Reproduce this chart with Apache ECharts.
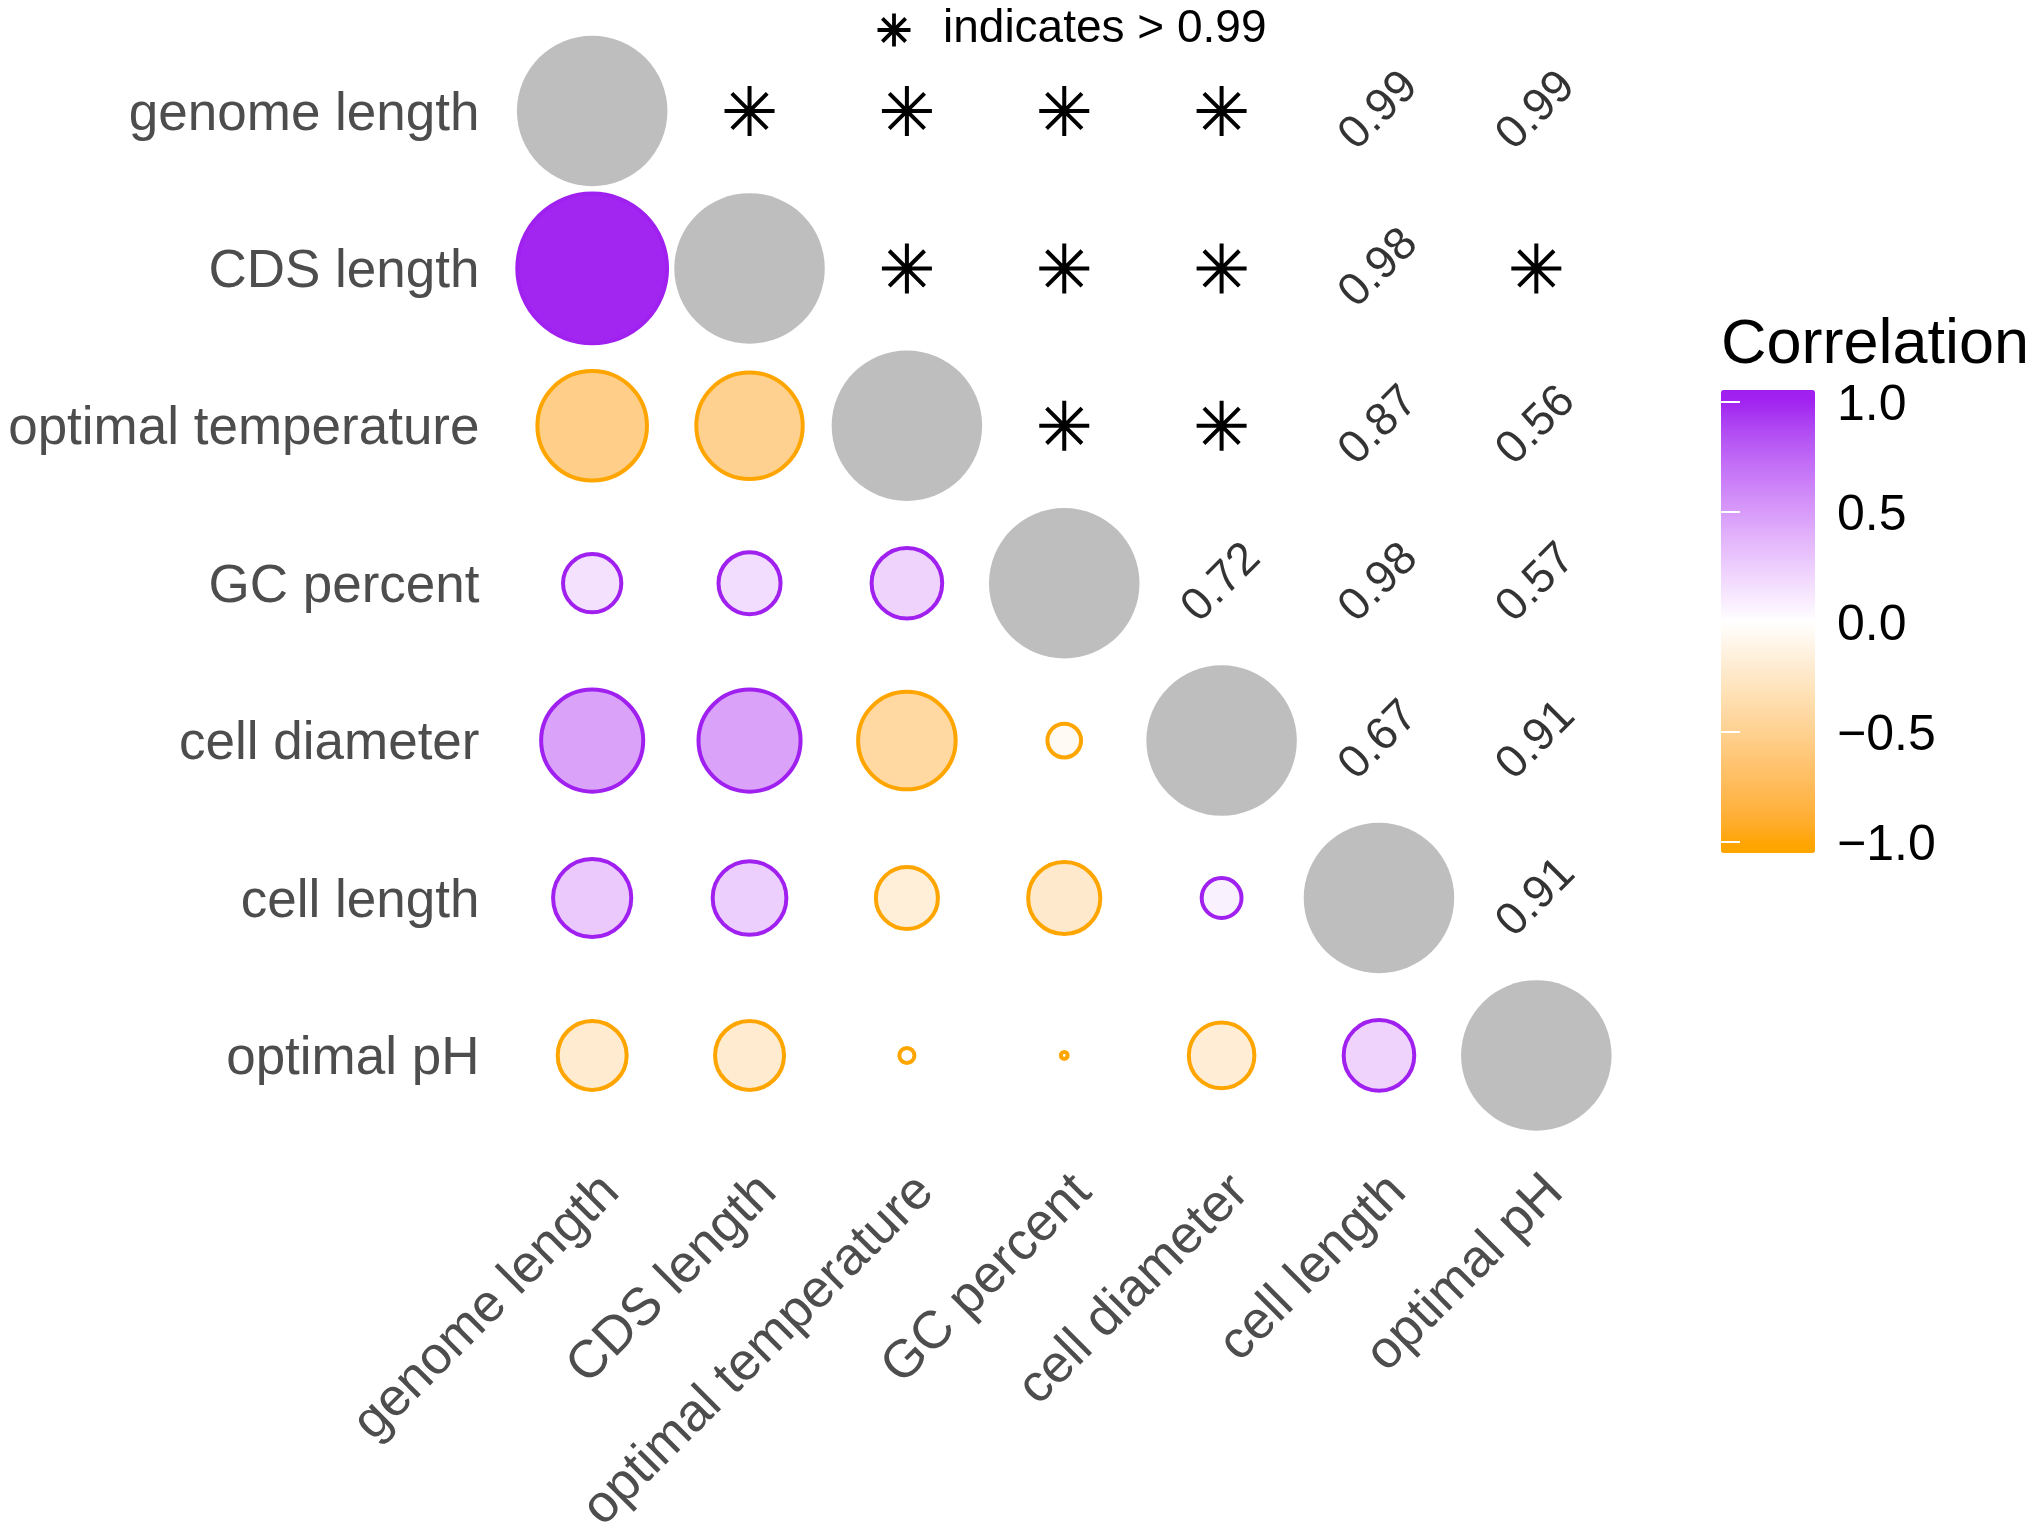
<!DOCTYPE html>
<html>
<head>
<meta charset="utf-8">
<script src="https://cdn.jsdelivr.net/npm/echarts@6.0.0/dist/echarts.min.js"></script>
<style>
  html, body { margin: 0; padding: 0; background: #fff; }
  #chart { width: 2040px; height: 1531px; }
</style>
</head>
<body>
<div id="chart"></div>
<script>
// variables, top to bottom / left to right
const variables = ['genome length', 'CDS length', 'optimal temperature', 'GC percent',
  'cell diameter', 'cell length', 'optimal pH'];

// lower triangle: correlation of each row with the columns to its left
const corrCDSLength = [0.99];
const corrOptimalTemperature = [-0.53, -0.50];
const corrGCPercent = [0.15, 0.17, 0.22];
const corrCellDiameter = [0.46, 0.46, -0.42, -0.05];
const corrCellLength = [0.27, 0.24, -0.17, -0.23, 0.07];
const corrOptimalPH = [-0.21, -0.21, -0.01, -0.002, -0.19, 0.22];

// upper triangle: labels of each row for the columns to its right ('*' = > 0.99)
const upperGenomeLength = ['*', '*', '*', '*', '0.99', '0.99'];
const upperCDSLength = ['*', '*', '*', '0.98', '*'];
const upperOptimalTemperature = ['*', '*', '0.87', '0.56'];
const upperGCPercent = ['0.72', '0.98', '0.57'];
const upperCellDiameter = ['0.67', '0.91'];
const upperCellLength = ['0.91'];

const lowerRows = [[], corrCDSLength, corrOptimalTemperature, corrGCPercent,
  corrCellDiameter, corrCellLength, corrOptimalPH];
const upperRows = [upperGenomeLength, upperCDSLength, upperOptimalTemperature,
  upperGCPercent, upperCellDiameter, upperCellLength, []];

const FONT = "'Liberation Sans', Arial, Helvetica, sans-serif";
const PURPLE = '#A020F0';
const ORANGE = '#FFA500';
const MAX_SIZE = 150.5;

// asterisk (plus + cross), 0..100 box
const asteriskPath = 'path://M46 0L54 0L54 100L46 100Z' +
  'M0 46L100 46L100 54L0 54Z' +
  'M17.47 11.81L88.19 82.53L82.53 88.19L11.81 17.47Z' +
  'M11.81 82.53L82.53 11.81L88.19 17.47L17.47 88.19Z';

// --- Lab interpolation like ggplot's gradient2 ---
function hexToRgb(h) {
  return [parseInt(h.slice(1, 3), 16), parseInt(h.slice(3, 5), 16), parseInt(h.slice(5, 7), 16)];
}
function toLin(c) { c /= 255; return c <= 0.04045 ? c / 12.92 : Math.pow((c + 0.055) / 1.055, 2.4); }
function fromLin(c) {
  c = c <= 0.0031308 ? 12.92 * c : 1.055 * Math.pow(c, 1 / 2.4) - 0.055;
  return Math.round(Math.max(0, Math.min(1, c)) * 255);
}
const WX = 0.95047, WY = 1, WZ = 1.08883;
function f(t) { return t > 0.008856 ? Math.cbrt(t) : 7.787 * t + 16 / 116; }
function finv(t) { return t > 0.206893 ? t * t * t : (t - 16 / 116) / 7.787; }
function rgbToLab(rgb) {
  const [r, g, b] = rgb.map(toLin);
  const x = 0.4124 * r + 0.3576 * g + 0.1805 * b;
  const y = 0.2126 * r + 0.7152 * g + 0.0722 * b;
  const z = 0.0193 * r + 0.1192 * g + 0.9505 * b;
  const fx = f(x / WX), fy = f(y / WY), fz = f(z / WZ);
  return [116 * fy - 16, 500 * (fx - fy), 200 * (fy - fz)];
}
function labToHex(lab) {
  const fy = (lab[0] + 16) / 116, fx = fy + lab[1] / 500, fz = fy - lab[2] / 200;
  const x = WX * finv(fx), y = WY * finv(fy), z = WZ * finv(fz);
  const r = 3.2406 * x - 1.5372 * y - 0.4986 * z;
  const g = -0.9689 * x + 1.8758 * y + 0.0415 * z;
  const b = 0.0557 * x - 0.2040 * y + 1.0570 * z;
  return '#' + [r, g, b].map(c => fromLin(c).toString(16).padStart(2, '0')).join('');
}
const labWhite = rgbToLab([255, 255, 255]);
const labPurple = rgbToLab(hexToRgb(PURPLE));
const labOrange = rgbToLab(hexToRgb(ORANGE));
function corrColor(v) {
  const t = Math.min(1, Math.abs(v));
  const end = v >= 0 ? labPurple : labOrange;
  return labToHex(labWhite.map((w, k) => w + (end[k] - w) * t));
}

const barMin = -1.052, barMax = 1.052;
const stops = [];
for (let k = 0; k <= 60; k++) stops.push(corrColor(barMin + (barMax - barMin) * k / 60));

// --- series data ---
const diagData = variables.map((_, i) => [i, i]);
const lowerData = [];
lowerRows.forEach((row, i) => row.forEach((r, j) => {
  lowerData.push({ value: [j, i, r], itemStyle: { borderColor: r >= 0 ? PURPLE : ORANGE } });
}));
const starData = [];
const textData = [];
upperRows.forEach((row, i) => row.forEach((lab, k) => {
  const j = i + 1 + k;
  if (lab === '*') starData.push([j, i]);
  else textData.push([j, i, lab]);
}));

// small asterisk for the note at the top
const noteStar = {
  type: 'group', x: 894, y: 30,
  children: [0, Math.PI / 2, Math.PI / 4, -Math.PI / 4].map(a => ({
    type: 'rect', rotation: a,
    shape: { x: -16.5, y: -1.9, width: 33, height: 3.8 },
    style: { fill: '#000' }
  }))
};

const chart = echarts.init(document.getElementById('chart'));
chart.setOption({
  animation: false,
  backgroundColor: '#fff',
  grid: [
    { left: 513.5, top: 32.3, width: 1101.5, height: 1101.8, outerBoundsMode: 'none' },
    { left: 1721, top: 401.7, width: 94, height: 440, outerBoundsMode: 'none' }
  ],
  xAxis: [
    {
      type: 'category', data: variables, gridIndex: 0,
      axisLine: { show: false }, axisTick: { show: false }, splitLine: { show: false },
      axisLabel: {
        interval: 0, rotate: 45, align: 'right', verticalAlign: 'top', margin: 31,
        fontSize: 53, color: '#4D4D4D', fontFamily: FONT
      }
    },
    { type: 'value', gridIndex: 1, show: false }
  ],
  yAxis: [
    {
      type: 'category', data: variables, gridIndex: 0, inverse: true,
      axisLine: { show: false }, axisTick: { show: false }, splitLine: { show: false },
      axisLabel: {
        interval: 0, margin: 34,
        formatter: v => '{a|' + v + '}',
        rich: { a: { padding: [8, 0, 0, 0], fontSize: 53, color: '#4D4D4D', fontFamily: FONT } }
      }
    },
    {
      type: 'value', gridIndex: 1, position: 'right', min: -1, max: 1, interval: 0.5, z: 10,
      axisLine: { show: false }, splitLine: { show: false },
      axisTick: { show: true, inside: true, length: 19, lineStyle: { color: '#fff', width: 2 } },
      axisLabel: {
        margin: 22,
        formatter: v => '{a|' + (v < 0 ? '\u2212' : '') + Math.abs(v).toFixed(1) + '}',
        rich: { a: { padding: [10, 0, 0, 0], fontSize: 50, color: '#000', fontFamily: FONT } }
      }
    },
    {
      type: 'value', gridIndex: 1, position: 'left', min: -1, max: 1, interval: 0.5, z: 10,
      axisLine: { show: false }, splitLine: { show: false }, axisLabel: { show: false },
      axisTick: { show: true, inside: true, length: 19, lineStyle: { color: '#fff', width: 2 } }
    }
  ],
  visualMap: {
    type: 'continuous', min: barMin, max: barMax, seriesIndex: 1, dimension: 2,
    left: 1721, top: 390, itemWidth: 94, itemHeight: 463, padding: 0,
    calculable: false, hoverLink: false,
    inRange: { color: stops }
  },
  graphic: [
    noteStar,
    { type: 'text', x: 943, y: 29,
      style: { text: 'indicates > 0.99', fontSize: 46, fontFamily: FONT, fill: '#000', verticalAlign: 'middle' } },
    { type: 'text', x: 1721, y: 346,
      style: { text: 'Correlation', fontSize: 63, fontFamily: FONT, fill: '#000', verticalAlign: 'middle' } }
  ],
  series: [
    {
      type: 'scatter', data: diagData, symbol: 'circle', symbolSize: MAX_SIZE,
      itemStyle: { color: '#BEBEBE', opacity: 1 }, silent: true
    },
    {
      type: 'scatter', data: lowerData, symbol: 'circle',
      symbolSize: d => MAX_SIZE * Math.sqrt(Math.abs(d[2])),
      itemStyle: { borderWidth: 4, opacity: 1 }, silent: true
    },
    {
      type: 'scatter', data: starData, symbol: asteriskPath, symbolSize: 50,
      itemStyle: { color: '#000', opacity: 1 }, silent: true
    },
    {
      type: 'scatter', data: textData, symbolSize: 1,
      itemStyle: { color: 'rgba(0,0,0,0)' }, silent: true,
      label: {
        show: true, position: 'inside', rotate: 45, fontSize: 46, color: '#000', fontFamily: FONT,
        formatter: p => p.value[2]
      }
    }
  ]
});
</script>
</body>
</html>
